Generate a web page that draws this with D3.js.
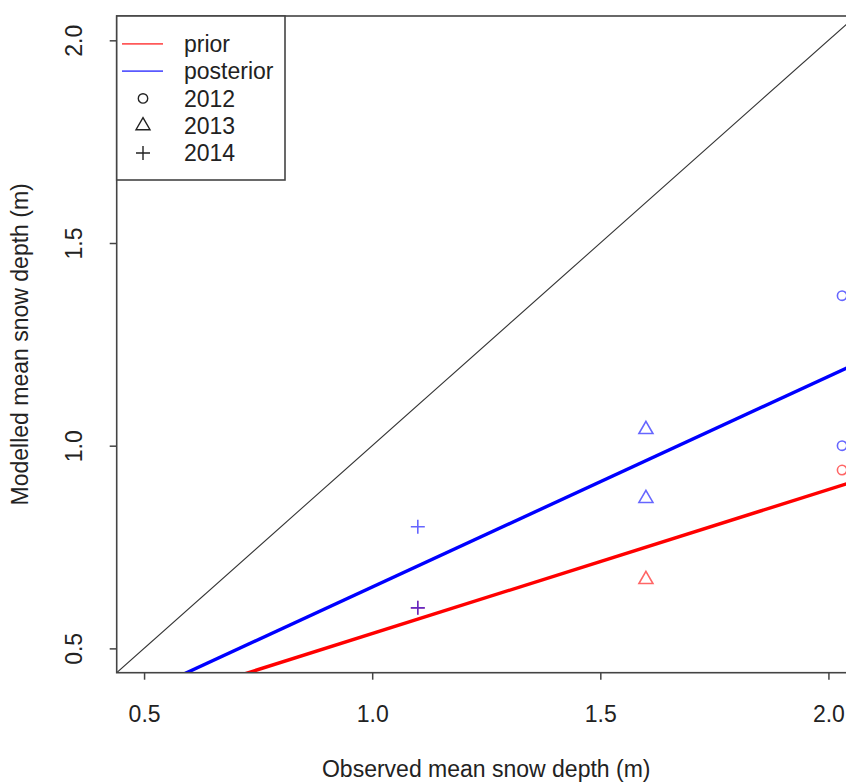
<!DOCTYPE html>
<html>
<head>
<meta charset="utf-8">
<script src="https://cdn.jsdelivr.net/npm/d3@7"></script>
<style>
  html, body { margin: 0; padding: 0; background: #fff; overflow: hidden; }
  svg text { font-family: "Liberation Sans", Arial, sans-serif; fill: #222; }
</style>
</head>
<body>
<svg id="chart" width="846" height="782"></svg>
<script>
// Observed vs modelled mean snow depth, by year
const years = ["2012", "2013", "2014"];
const yearShapes = ["circle", "triangle", "plus"];

// prior model points
const priorObserved = [2.03, 1.6, 1.1];
const priorModelled = [0.94, 0.67, 0.60];
const priorYear     = ["2012", "2013", "2014"];

// posterior model points
const postObserved = [2.03, 2.03, 1.6, 1.6, 1.1, 1.1];
const postModelled = [1.37, 1.00, 1.04, 0.87, 0.80, 0.60];
const postYear     = ["2012", "2012", "2013", "2013", "2014", "2014"];

// fitted lines (intercept, slope)
const fitNames      = ["prior", "posterior"];
const fitIntercepts = [0.1812, 0.1317];
const fitSlopes     = [0.3553, 0.5196];
const fitColors     = ["#ff0000", "#0000ff"];

const axisLimits = [0.5, 2.0];
const tickValues = [0.5, 1.0, 1.5, 2.0];

const svg = d3.select("#chart");
const plot = { left: 116.7, right: 855.8, top: 16, bottom: 672.7 };

// axis ranges padded by 4% on each side
const span = axisLimits[1] - axisLimits[0];
const domain = [axisLimits[0] - 0.04 * span, axisLimits[1] + 0.04 * span];
const x = d3.scaleLinear().domain(domain).range([plot.left, plot.right]);
const y = d3.scaleLinear().domain(domain).range([plot.bottom, plot.top]);

svg.append("clipPath").attr("id", "plotClip")
  .append("rect")
  .attr("x", plot.left).attr("y", plot.top)
  .attr("width", plot.right - plot.left).attr("height", plot.bottom - plot.top);

const inner = svg.append("g").attr("clip-path", "url(#plotClip)");

// 1:1 reference line
inner.append("line")
  .attr("x1", x(domain[0])).attr("y1", y(domain[0]))
  .attr("x2", x(domain[1])).attr("y2", y(domain[1]))
  .attr("stroke", "#333").attr("stroke-width", 1.1);

// regression lines
fitNames.forEach((n, i) => {
  const f = v => fitIntercepts[i] + fitSlopes[i] * v;
  inner.append("line")
    .attr("x1", x(domain[0])).attr("y1", y(f(domain[0])))
    .attr("x2", x(domain[1])).attr("y2", y(f(domain[1])))
    .attr("stroke", fitColors[i]).attr("stroke-width", 3.4);
});

// point symbols
function symbolPath(shape, cx, cy) {
  if (shape === "circle") {
    const r = 4.7;
    return `M${cx + r},${cy}A${r},${r} 0 1,1 ${cx - r},${cy}A${r},${r} 0 1,1 ${cx + r},${cy}Z`;
  }
  if (shape === "triangle") {
    const s = 5.2, rr = 1.5551 * s, xc = 1.3468 * s, yc = 0.7776 * s;
    return `M${cx},${cy - rr}L${cx + xc},${cy + yc}L${cx - xc},${cy + yc}Z`;
  }
  const h = 7;
  return `M${cx - h},${cy}L${cx + h},${cy}M${cx},${cy - h}L${cx},${cy + h}`;
}
const shapeOf = yr => yearShapes[years.indexOf(yr)];

function drawPoints(obs, mod, yr, color) {
  inner.append("g").selectAll("path")
    .data(obs.map((o, i) => ({ o, m: mod[i], yr: yr[i] })))
    .join("path")
    .attr("d", d => symbolPath(shapeOf(d.yr), x(d.o), y(d.m)))
    .attr("fill", "none")
    .attr("stroke", color)
    .attr("stroke-opacity", 0.6)
    .attr("stroke-width", 1.6);
}
drawPoints(priorObserved, priorModelled, priorYear, "#ff0000");
drawPoints(postObserved, postModelled, postYear, "#0000ff");

// axes
const fmt = d3.format(".1f");
const xAxis = svg.append("g")
  .attr("transform", `translate(0,${plot.bottom})`)
  .call(d3.axisBottom(x).tickValues(tickValues).tickFormat(fmt).tickSize(7).tickSizeOuter(0));
xAxis.select(".domain").remove();
xAxis.selectAll(".tick line").attr("stroke", "#444").attr("stroke-width", 1.5);
xAxis.selectAll(".tick text").attr("y", 0).attr("dy", null)
  .attr("transform", "translate(0,49)")
  .style("font-size", "23px").attr("fill", "#222");

const yAxis = svg.append("g")
  .attr("transform", `translate(${plot.left},0)`)
  .call(d3.axisLeft(y).tickValues(tickValues).tickFormat(fmt).tickSize(7).tickSizeOuter(0));
yAxis.select(".domain").remove();
yAxis.selectAll(".tick line").attr("stroke", "#444").attr("stroke-width", 1.5);
yAxis.selectAll(".tick text")
  .attr("x", null).attr("dy", null)
  .attr("text-anchor", "middle")
  .attr("transform", "translate(-35,0) rotate(-90)")
  .style("font-size", "23px").attr("fill", "#222");

// plot frame
svg.append("rect")
  .attr("x", plot.left).attr("y", plot.top)
  .attr("width", plot.right - plot.left).attr("height", plot.bottom - plot.top)
  .attr("fill", "none").attr("stroke", "#444").attr("stroke-width", 1.6);

// axis titles
svg.append("text")
  .attr("x", (plot.left + plot.right) / 2).attr("y", 777)
  .attr("text-anchor", "middle").style("font-size", "23px")
  .text("Observed mean snow depth (m)");
svg.append("text")
  .attr("transform", `translate(28,${(plot.top + plot.bottom) / 2}) rotate(-90)`)
  .attr("text-anchor", "middle").style("font-size", "23px")
  .text("Modelled mean snow depth (m)");

// legend
const legendItems = [
  { label: "prior", kind: "line", color: "#ff0000" },
  { label: "posterior", kind: "line", color: "#0000ff" },
  ...years.map((yr, i) => ({ label: yr, kind: yearShapes[i], color: "#222" }))
];
const legend = svg.append("g");
legend.append("rect")
  .attr("x", plot.left).attr("y", plot.top)
  .attr("width", 168.3).attr("height", 164)
  .attr("fill", "#fff").attr("stroke", "#444").attr("stroke-width", 1.6);
legendItems.forEach((d, i) => {
  const cy = 43.8 + i * 27.3;
  if (d.kind === "line") {
    legend.append("line")
      .attr("x1", 122).attr("x2", 163).attr("y1", cy).attr("y2", cy)
      .attr("stroke", d.color).attr("stroke-opacity", 0.65).attr("stroke-width", 1.8);
  } else {
    legend.append("path")
      .attr("d", symbolPath(d.kind, 143, cy))
      .attr("fill", "none").attr("stroke", d.color).attr("stroke-width", 1.4);
  }
  legend.append("text")
    .attr("x", 184).attr("y", cy + 8.2)
    .style("font-size", "23px")
    .text(d.label);
});
</script>
</body>
</html>
